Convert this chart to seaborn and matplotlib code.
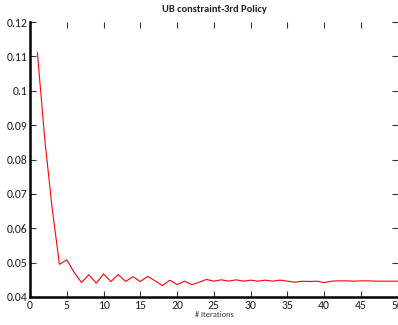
import numpy as np
import pandas as pd
import seaborn as sns
import matplotlib
matplotlib.use("Agg")
import matplotlib.pyplot as plt

# values
iterations = list(range(1, 51))
ub_values = [0.1112, 0.0860, 0.0660, 0.0495, 0.0508, 0.0472, 0.0442, 0.0465, 0.0440, 0.0467,
             0.0445, 0.0465, 0.0445, 0.0459, 0.0445, 0.0460, 0.0447, 0.0433, 0.0449, 0.0436,
             0.0446, 0.0436, 0.0443, 0.0451, 0.0446, 0.0450, 0.0446, 0.0450, 0.0446, 0.0449,
             0.0446, 0.0449, 0.0446, 0.0449, 0.0446, 0.0443, 0.0446, 0.0445, 0.0446, 0.0442,
             0.0446, 0.0447, 0.0447, 0.0446, 0.0447, 0.0447, 0.0446, 0.0446, 0.0446, 0.0446]
x_ticks = [0, 5, 10, 15, 20, 25, 30, 35, 40, 45, 50]
y_ticks = [0.04, 0.05, 0.06, 0.07, 0.08, 0.09, 0.1, 0.11, 0.12]
y_tick_labels = ["0.04", "0.05", "0.06", "0.07", "0.08", "0.09", "0.1", "0.11", "0.12"]

df = pd.DataFrame({"iter": iterations, "ub": ub_values})

sns.set_style("white")
plt.rcParams["font.family"] = ["Carlito", "DejaVu Sans"]

fig = plt.figure(figsize=(3.98, 3.25), dpi=100)
ax = fig.add_axes([0.0754, 0.0862, 0.924, 0.846])

sns.lineplot(data=df, x="iter", y="ub", color="red", linewidth=0.8, ax=ax)

ax.set_xlim(0, 50)
ax.set_ylim(0.04, 0.12)
ax.set_xticks(x_ticks)
ax.set_yticks(y_ticks)
ax.set_yticklabels(y_tick_labels)
ax.tick_params(direction="in", length=4.5, width=0.8, labelsize=8.5,
               bottom=True, left=True, top=True, right=True,
               pad=2, color="#333333", labelcolor="#222222")

for side in ["top", "right"]:
    ax.spines[side].set_visible(False)
for side in ["left", "bottom"]:
    ax.spines[side].set_linewidth(1.8)
    ax.spines[side].set_color("black")

ax.set_xlabel("# Iterations", fontsize=6, labelpad=0, color="#333333")
ax.set_ylabel("")
ax.set_title("UB constraint-3rd Policy", fontsize=7.5, fontweight="bold", pad=7, color="#222222")

fig.savefig("out.png", dpi=100)
